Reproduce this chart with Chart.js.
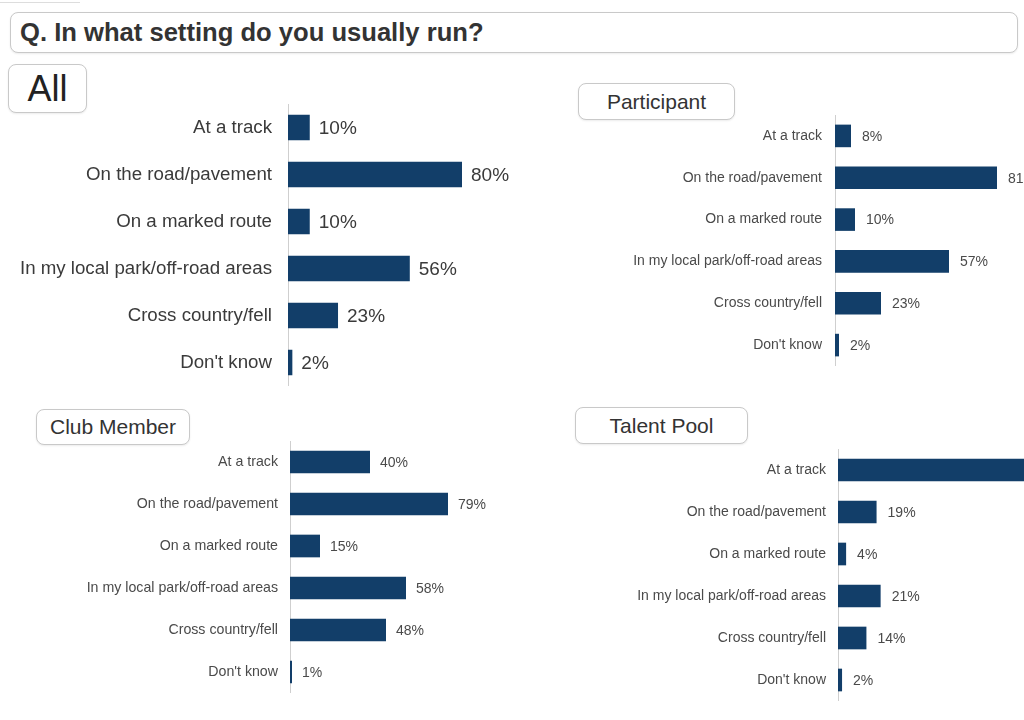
<!DOCTYPE html>
<html>
<head>
<meta charset="utf-8">
<script src="https://cdn.jsdelivr.net/npm/chart.js@4.4.1/dist/chart.umd.min.js"></script>
<style>
    html, body { margin: 0; padding: 0; background: #fff; }
    body {
        width: 1024px; height: 720px; position: relative; overflow: hidden;
        font-family: 'Liberation Sans', Arial, sans-serif;
    }
    .caixa {
        position: absolute; box-sizing: border-box;
        border: 1.5px solid #c9c9c9; border-radius: 8px; background: #fff;
        color: #333; display: flex; align-items: center; justify-content: center;
        box-shadow: 0 1px 2px rgba(0,0,0,0.08);
    }
    #titulo { left: 10px; top: 12px; width: 1008px; height: 41px; justify-content: flex-start;
              padding-left: 9px; font-weight: bold; font-size: 25.6px; color: #333; }
    #caixa-all { left: 8px; top: 64px; width: 79px; height: 49px; font-size: 36px; color: #222; }
    #caixa-part { left: 578px; top: 83px; width: 157px; height: 37px; font-size: 21px; }
    #caixa-club { left: 36px; top: 409px; width: 154px; height: 36px; font-size: 21px; }
    #caixa-talent { left: 575px; top: 407px; width: 173px; height: 37px; font-size: 21px; }
    #linha-topo { position: absolute; left: 0; top: 2px; width: 80px; height: 1px; background: #ddd; }
    canvas { position: absolute; }
</style>
</head>
<body>
<div id="linha-topo"></div>
<div class="caixa" id="titulo">Q. In what setting do you usually run?</div>
<div class="caixa" id="caixa-all">All</div>
<div class="caixa" id="caixa-part">Participant</div>
<div class="caixa" id="caixa-club">Club Member</div>
<div class="caixa" id="caixa-talent">Talent Pool</div>

<canvas id="chartAll" width="540" height="282" style="left:0px; top:104px"></canvas>
<canvas id="chartParticipant" width="530" height="251" style="left:560px; top:115px"></canvas>
<canvas id="chartClub" width="540" height="252" style="left:0px; top:441px"></canvas>
<canvas id="chartTalent" width="530" height="252" style="left:560px; top:449px"></canvas>

<script>
const categorias = ['At a track', 'On the road/pavement', 'On a marked route',
    'In my local park/off-road areas', 'Cross country/fell', "Don't know"];
const valoresAll = [10, 80, 10, 56, 23, 2];
const valoresParticipant = [8, 81, 10, 57, 23, 2];
const valoresClub = [40, 79, 15, 58, 48, 1];
const valoresTalent = [93, 19, 4, 21, 14, 2];

const corBarra = '#123e69';
const fonte = "'Liberation Sans', Arial, sans-serif";

// rótulo de percentagem à direita de cada barra
const rotulosValor = {
    id: 'rotulosValor',
    afterDatasetsDraw(chart, args, opts) {
        const ctx = chart.ctx;
        ctx.save();
        ctx.font = `${opts.size}px ${fonte}`;
        ctx.fillStyle = opts.color;
        ctx.textBaseline = 'middle';
        chart.getDatasetMeta(0).data.forEach((barra, i) => {
            const v = chart.data.datasets[0].data[i];
            ctx.fillText(v + '%', barra.x + opts.offset, barra.y + 1);
        });
        ctx.restore();
    }
};

function criarGrafico(id, valores, cfg) {
    const ctx = document.getElementById(id).getContext('2d');
    return new Chart(ctx, {
        type: 'bar',
        data: {
            labels: categorias,
            datasets: [{
                data: valores,
                backgroundColor: corBarra,
                borderWidth: 0,
                categoryPercentage: 1,
                barPercentage: 0.54
            }]
        },
        options: {
            indexAxis: 'y',
            responsive: false,
            animation: false,
            layout: { padding: { top: 0, bottom: 0, left: 0, right: cfg.padDireita } },
            plugins: {
                legend: { display: false },
                tooltip: { enabled: false },
                rotulosValor: { size: cfg.tamValor, color: cfg.corTexto, offset: cfg.offset }
            },
            scales: {
                x: { display: false, min: 0, max: cfg.max },
                y: {
                    grid: { display: false, drawTicks: false },
                    border: { display: true, color: '#cfcfcf', width: 1 },
                    ticks: {
                        color: cfg.corTexto,
                        padding: cfg.padRotulo,
                        font: { family: fonte, size: cfg.tamRotulo }
                    },
                    // largura fixa do eixo e sem folga vertical, para as faixas ocuparem o canvas todo
                    afterFit: (escala) => {
                        escala.width = cfg.larguraEixo;
                        escala.paddingTop = 0;
                        escala.paddingBottom = 0;
                    }
                }
            }
        },
        plugins: [rotulosValor]
    });
}

criarGrafico('chartAll', valoresAll, {
    larguraEixo: 288, max: 100, padDireita: 34.5, padRotulo: 16,
    tamRotulo: 18.7, tamValor: 19, offset: 9, corTexto: '#3a3a3a'
});
criarGrafico('chartParticipant', valoresParticipant, {
    larguraEixo: 275, max: 100, padDireita: 55, padRotulo: 13,
    tamRotulo: 14, tamValor: 14, offset: 11, corTexto: '#4a4a4a'
});
criarGrafico('chartClub', valoresClub, {
    larguraEixo: 290, max: 100, padDireita: 50, padRotulo: 12,
    tamRotulo: 14.2, tamValor: 14, offset: 10, corTexto: '#4a4a4a'
});
criarGrafico('chartTalent', valoresTalent, {
    larguraEixo: 278, max: 100, padDireita: 49, padRotulo: 12,
    tamRotulo: 14, tamValor: 14, offset: 11, corTexto: '#4a4a4a'
});
</script>
</body>
</html>
